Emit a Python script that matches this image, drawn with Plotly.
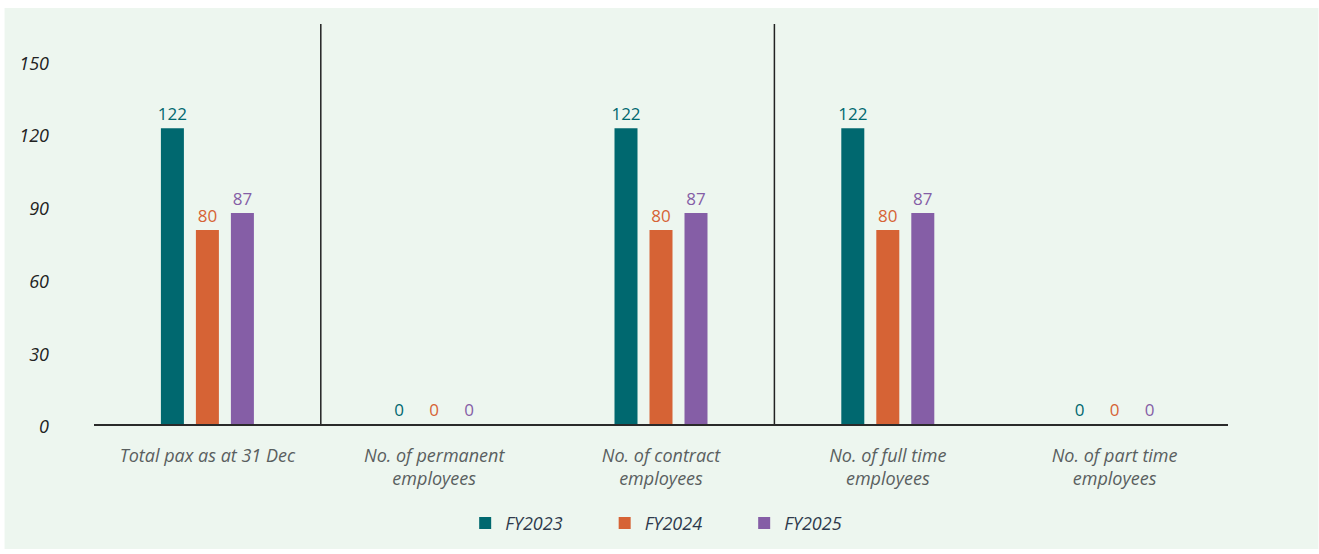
import plotly.graph_objects as go

# Headcount by employment type, three financial years
categories = [
    "Total pax as at 31 Dec",
    "No. of permanent<br>employees",
    "No. of contract<br>employees",
    "No. of full time<br>employees",
    "No. of part time<br>employees",
]
series_names = ["FY2023", "FY2024", "FY2025"]
fy2023 = [122, 0, 122, 122, 0]
fy2024 = [80, 0, 80, 80, 0]
fy2025 = [87, 0, 87, 87, 0]
y_ticks = [0, 30, 60, 90, 120, 150]

colors = ["#00686F", "#D66335", "#855EA6"]
FONT = "Open Sans"

fig = go.Figure()
for name, vals, col in zip(series_names, [fy2023, fy2024, fy2025], colors):
    fig.add_trace(go.Bar(
        name=name,
        x=categories,
        y=vals,
        marker=dict(color=col, line=dict(width=0)),
        text=[str(v) for v in vals],
        textposition="outside",
        constraintext="none",
        cliponaxis=False,
        textfont=dict(family=FONT, size=17, color=col),
    ))

W, H = 1319, 554
L, R, T, B = 93.5, 90.5, 24, 127
plot_w = W - L - R
plot_h = H - T - B

def px_x(p):
    return (p - L) / plot_w

def px_y(p):
    return (H - B - p) / plot_h

shapes = [
    # mint panel behind the chart
    dict(type="rect", xref="paper", yref="paper",
         x0=px_x(4), x1=px_x(1319), y0=px_y(553), y1=px_y(8),
         fillcolor="#EDF6EF", line=dict(width=0), layer="below"),
]
# dividers between category groups
for xv in [0.5, 2.5]:
    shapes.append(dict(type="line", xref="x", yref="paper",
                       x0=xv, x1=xv, y0=0, y1=1,
                       line=dict(color="#222222", width=1.5)))

fig.update_layout(
    width=W, height=H,
    margin=dict(l=L, r=R, t=T, b=B),
    paper_bgcolor="white",
    plot_bgcolor="rgba(0,0,0,0)",
    barmode="group",
    bargap=0.537,
    bargroupgap=0.343,
    shapes=shapes,
    showlegend=True,
    legend=dict(
        orientation="h",
        x=px_x(465), xanchor="left",
        y=px_y(527), yanchor="middle",
        entrywidth=94.5, entrywidthmode="pixels",
        font=dict(family=FONT, size=18, color="#2E3A4C", style="italic"),
        bgcolor="rgba(0,0,0,0)",
        traceorder="normal",
    ),
    xaxis=dict(
        showgrid=False, zeroline=False,
        showline=True, linecolor="#2a2a2a", linewidth=2,
        ticks="", ticklabelstandoff=14,
        tickfont=dict(family=FONT, size=18, color="#5A5F5F", style="italic"),
    ),
    yaxis=dict(
        range=[0, 165], showgrid=False, zeroline=False, showline=False,
        tickvals=y_ticks, ticktext=[str(v) for v in y_ticks],
        ticks="", ticklabelstandoff=44, ticklabelshift=3,
        tickfont=dict(family=FONT, size=18, color="#222222", style="italic"),
    ),
)

fig.write_html("out.html")
